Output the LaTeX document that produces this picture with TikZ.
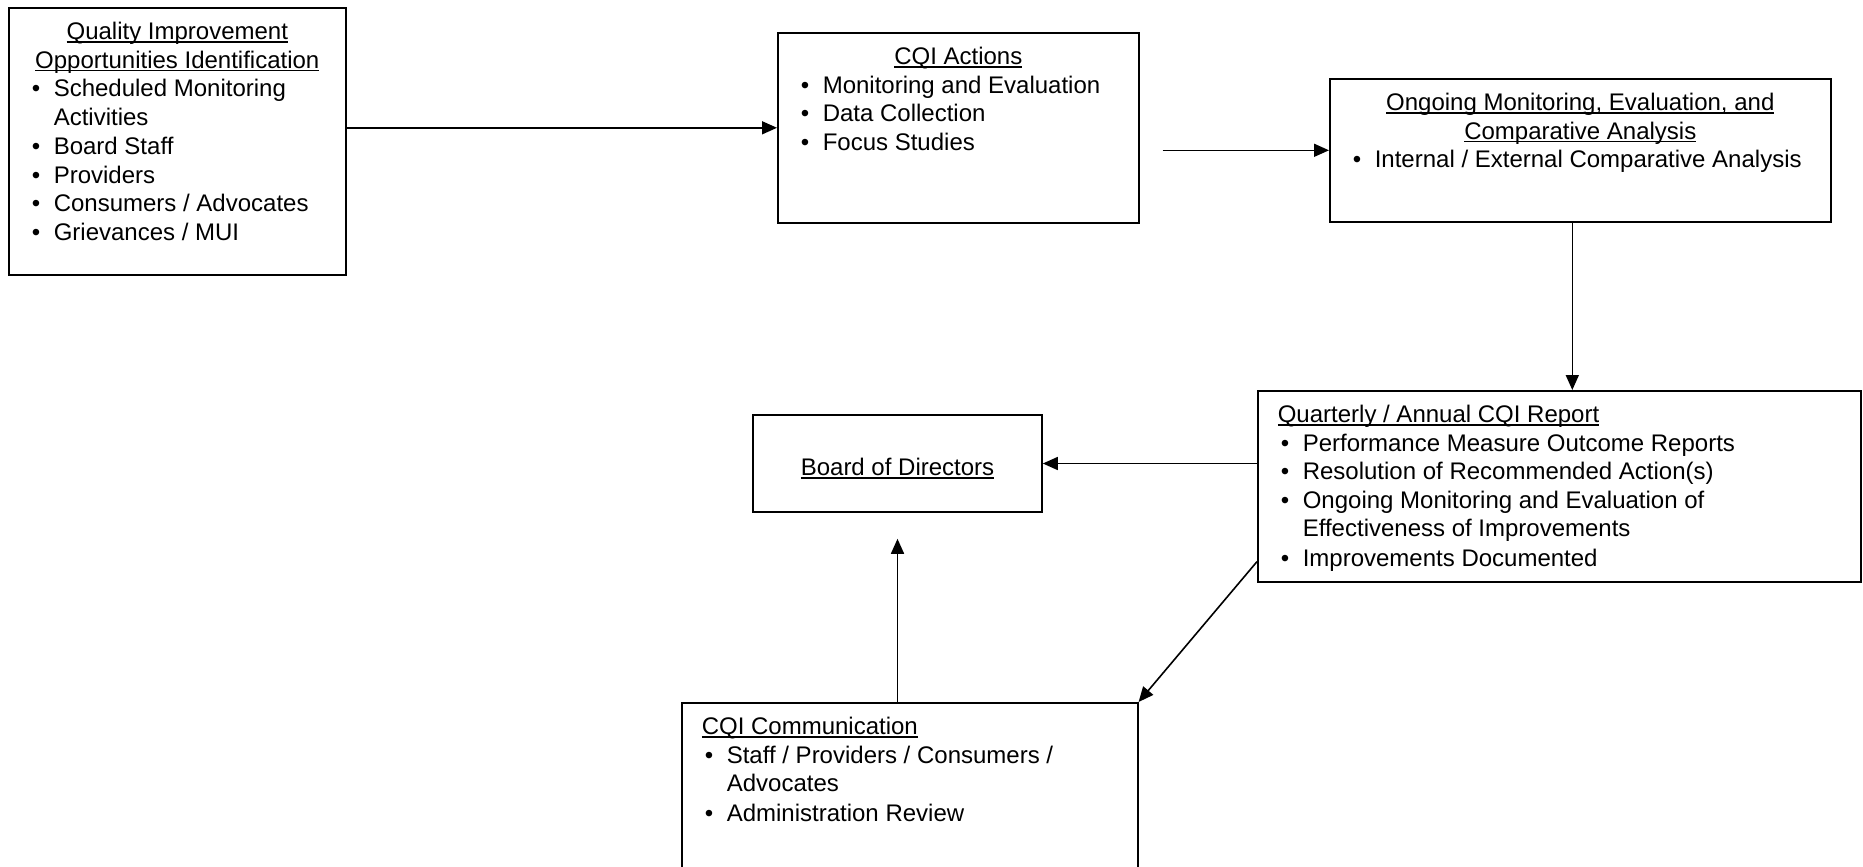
\documentclass[tikz,border=0pt]{standalone}
\usepackage{fontspec}
\setmainfont{Liberation Sans}
\usetikzlibrary{arrows.meta,calc}

\newcommand{\undl}[1]{\leavevmode\setbox0=\hbox{#1}\rlap{\rule[-3pt]{\wd0}{1.4pt}}\box0}
\newcommand{\bitem}[1]{\par\noindent\makebox[25pt][l]{\hspace{3pt}\textbullet}\begin{tabular}[t]{@{}l@{}}#1\end{tabular}}
\newcommand{\boxbody}[3]{\begin{minipage}[t][#2pt][t]{#1pt}#3\end{minipage}}

\begin{document}
\begin{tikzpicture}[x=1pt,y=-1pt,
	panel/.style={draw,line width=1.6pt,anchor=north west,inner xsep=20pt,inner ysep=12pt,font=\fontsize{24}{28.5}\selectfont},
	arr/.style={-{Triangle[length=15pt,width=13pt]},line width=1.6pt}]
	\useasboundingbox (0,0) rectangle (1863,867);
	% Boxes
	\node[panel] (qi) at (8,7) {\boxbody{297}{243}{{\centering\strut\undl{Quality Improvement}\\\undl{Opportunities Identification}\par}
		\bitem{Scheduled Monitoring\\Activities}\bitem{Board Staff}\bitem{Providers}\bitem{Consumers / Advocates}\bitem{Grievances / MUI}}};
	\node[panel] (actions) at (777,32) {\boxbody{321}{166}{{\centering\strut\undl{CQI Actions}\par}
		\bitem{Monitoring and Evaluation}\bitem{Data Collection}\bitem{Focus Studies}}};
	\node[panel] (ongoing) at (1329,78) {\boxbody{461}{119}{{\centering\strut\undl{Ongoing Monitoring, Evaluation, and}\\\undl{Comparative Analysis}\par}
		\bitem{Internal / External Comparative Analysis}}};
	\node[panel] (report) at (1257,390) {\boxbody{563}{167}{\strut\undl{Quarterly / Annual CQI Report}
		\bitem{Performance Measure Outcome Reports}\bitem{Resolution of Recommended Action(s)}\bitem{Ongoing Monitoring and Evaluation of\\Effectiveness of Improvements}\bitem{Improvements Documented}}};
	\node[panel,anchor=center,minimum width=289pt,minimum height=97pt] (board) at (897.5,463.5) {\raisebox{-12pt}[0pt][0pt]{\undl{Board of Directors}}};
	\node[panel] (comm) at (681,702) {\boxbody{416}{176}{\strut\undl{CQI Communication}
		\bitem{Staff / Providers / Consumers /\\Advocates}\bitem{Administration Review}}};
	%Arrows
	\coordinate (gap) at ($(actions.east |- ongoing.west)+(23,0)$);
	\coordinate (down) at ($(ongoing.south)+(-8,0)$);
	\coordinate (up) at ($(board.south)+(0,26)$);
	\coordinate (diag) at ($(report.south west)+(0,-21)$);
	\draw[arr] (qi.east |- actions.west) -- (actions.west);
	\draw[arr] (gap) -- (ongoing.west);
	\draw[arr] (down) -- (down |- report.north);
	\draw[arr] (report.west |- board.east) -- (board.east);
	\draw[arr] (up |- comm.north) -- (up);
	\draw[arr] (diag) -- (comm.north east);
\end{tikzpicture}
\end{document}
